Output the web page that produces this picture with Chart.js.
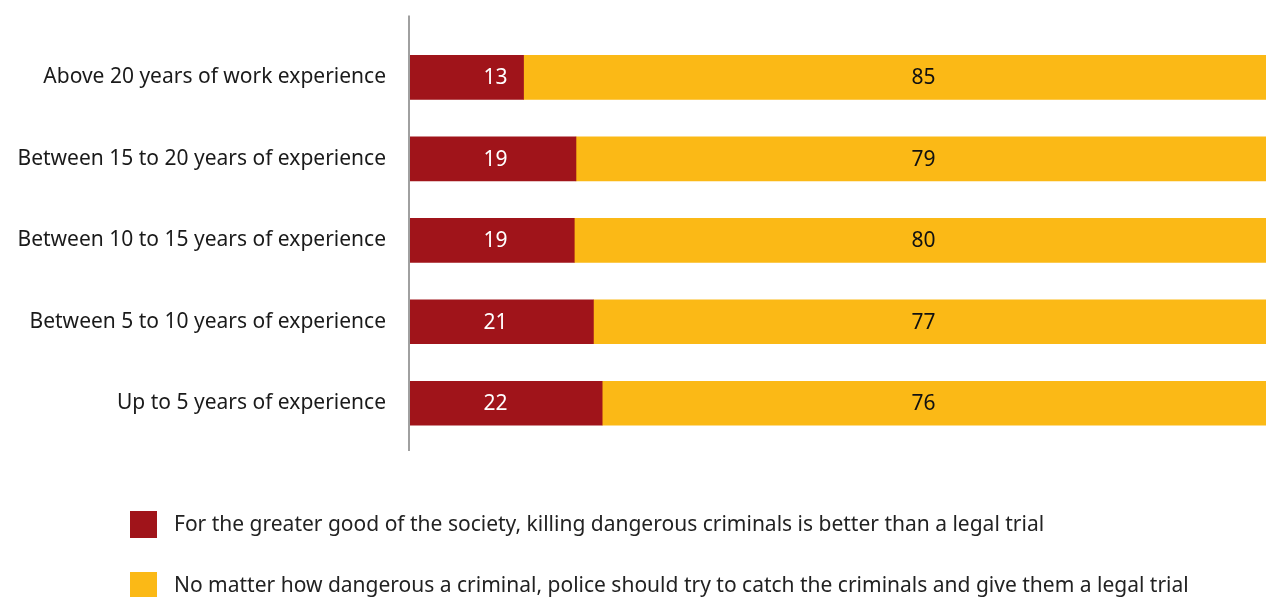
<!DOCTYPE html>
<html>
<head>
<meta charset="utf-8">
<script src="https://cdn.jsdelivr.net/npm/chart.js@4.4.1/dist/chart.umd.min.js"></script>
<style>
  html, body { margin: 0; padding: 0; background: #fff; }
  #wrap { position: relative; width: 1266px; height: 597px; overflow: hidden; }
  #legend { position: absolute; left: 130px; top: 511px; font-family: "Noto Sans", sans-serif; font-size: 21px; color: #222; }
  .item { position: absolute; left: 0; white-space: nowrap; height: 27px; line-height: 27px; }
  .sw { position: absolute; left: 0; top: 0; width: 27px; height: 27px; }
  .lt { position: absolute; left: 44px; top: -1px; }
</style>
</head>
<body>
<div id="wrap">
  <canvas id="c" width="1266" height="597"></canvas>
  <div id="legend"></div>
</div>
<script>
const categories = [
  "Above 20 years of work experience",
  "Between 15 to 20 years of experience",
  "Between 10 to 15 years of experience",
  "Between 5 to 10 years of experience",
  "Up to 5 years of experience"
];
const seriesNames = [
  "For the greater good of the society, killing dangerous criminals is better than a legal trial",
  "No matter how dangerous a criminal, police should try to catch the criminals and give them a legal trial"
];
const killingBetter = [13, 19, 19, 21, 22];
const legalTrial = [85, 79, 80, 77, 76];
const seriesColors = ["#A0141A", "#FBB916"];
const labelColors = ["#ffffff", "#111111"];
// label anchor positions on the 0-100 share axis
const labelAnchors = [10, 60];

const raw = [killingBetter, legalTrial];
const totals = categories.map((_, i) => killingBetter[i] + legalTrial[i]);
const shares = raw.map(arr => arr.map((v, i) => v / totals[i] * 100));

const FONT = '"Noto Sans", sans-serif';

const axisLine = {
  id: 'axisLine',
  afterDatasetsDraw(chart) {
    const { ctx, chartArea } = chart;
    ctx.save();
    ctx.strokeStyle = '#a0a0a0';
    ctx.lineWidth = 2;
    ctx.beginPath();
    ctx.moveTo(chartArea.left - 1, chartArea.top - 21);
    ctx.lineTo(chartArea.left - 1, chartArea.bottom + 7);
    ctx.stroke();
    ctx.restore();
  }
};

const valueLabels = {
  id: 'valueLabels',
  afterDatasetsDraw(chart) {
    const { ctx } = chart;
    const xs = chart.scales.x;
    ctx.save();
    ctx.font = '21px ' + FONT;
    ctx.textAlign = 'center';
    ctx.textBaseline = 'middle';
    chart.data.datasets.forEach((ds, di) => {
      const meta = chart.getDatasetMeta(di);
      meta.data.forEach((bar, i) => {
        ctx.fillStyle = labelColors[di];
        ctx.fillText(String(raw[di][i]), xs.getPixelForValue(labelAnchors[di]), bar.y + 1);
      });
    });
    ctx.restore();
  }
};

new Chart(document.getElementById('c'), {
  type: 'bar',
  data: {
    labels: categories,
    datasets: seriesNames.map((name, di) => ({
      label: name,
      data: shares[di],
      backgroundColor: seriesColors[di],
      borderWidth: 0,
      barThickness: 44
    }))
  },
  options: {
    indexAxis: 'y',
    responsive: false,
    animation: false,
    layout: { padding: { top: 33, bottom: 153, left: 0, right: 0 } },
    plugins: { legend: { display: false }, tooltip: { enabled: false } },
    scales: {
      x: { stacked: true, min: 0, max: 100, display: false },
      y: {
        stacked: true,
        border: { display: false },
        grid: { display: false, drawTicks: false },
        ticks: { color: '#1a1a1a', font: { family: FONT, size: 21 }, padding: 24 },
        afterFit(scale) { scale.width = 410; }
      }
    }
  },
  plugins: [axisLine, valueLabels]
});

const legend = document.getElementById('legend');
seriesNames.forEach((name, di) => {
  const it = document.createElement('div');
  it.className = 'item';
  it.style.top = (di * 61) + 'px';
  const sw = document.createElement('span');
  sw.className = 'sw';
  sw.style.background = seriesColors[di];
  const t = document.createElement('span');
  t.className = 'lt';
  t.textContent = name;
  it.appendChild(sw); it.appendChild(t);
  legend.appendChild(it);
});
</script>
</body>
</html>
